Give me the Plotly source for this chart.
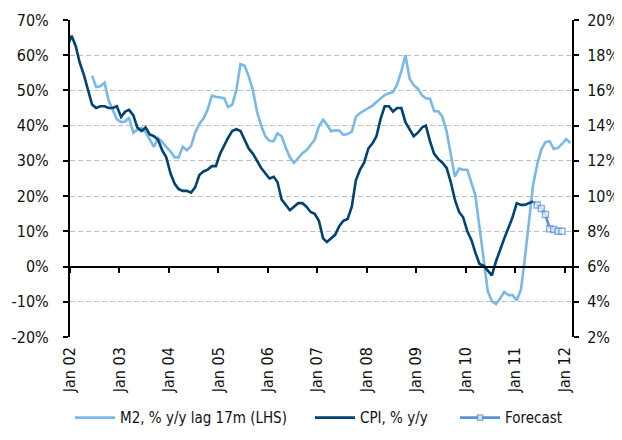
import pandas as pd
import plotly.graph_objects as go

# ---------------- data ----------------
# CPI, % y/y (right axis), monthly Dec 2001 .. May 2011
cpi_start = "2001-12"
cpi = [18.5,
       19.1, 18.5, 17.6, 16.9, 16.1, 15.2, 15.0, 15.1, 15.1, 15.0, 15.0, 15.1,
       14.5, 14.8, 14.9, 14.6, 13.9, 13.7, 13.9, 13.5, 13.4, 13.2, 12.6, 12.2,
       11.3, 10.7, 10.4, 10.3, 10.3, 10.2, 10.5, 11.2, 11.4, 11.5, 11.7, 11.7,
       12.4, 12.9, 13.3, 13.7, 13.8, 13.7, 13.2, 12.7, 12.4, 12.0, 11.6, 11.3,
       11.0, 11.1, 10.8, 9.8, 9.5, 9.2, 9.4, 9.6, 9.6, 9.4, 9.1, 9.0,
       8.6, 7.6, 7.4, 7.6, 7.8, 8.3, 8.6, 8.7, 9.4, 10.9, 11.5, 11.9,
       12.7, 13.0, 13.4, 14.4, 15.1, 15.1, 14.8, 15.0, 15.0, 14.2, 13.8, 13.4,
       13.6, 13.9, 14.0, 13.1, 12.4, 12.1, 11.9, 11.6, 10.8, 9.8, 9.1, 8.8,
       8.0, 7.5, 6.8, 6.15, 6.05, 5.8, 5.5, 6.3, 7.0, 7.6, 8.2, 8.8,
       9.6, 9.5, 9.5, 9.6, 9.7]

# CPI forecast (right axis), monthly May 2011 .. Dec 2011
fc_start = "2011-05"
forecast = [9.7, 9.5, 9.3, 8.95, 8.15, 8.1, 8.0, 8.0]

# M2, % y/y lagged 17m (left axis), monthly Jun 2002 .. Feb 2012
m2_start = "2002-06"
m2 = [54.2, 51.0, 51.2, 52.2, 47.2, 44.5, 41.8,
      41.0, 41.2, 42.3, 38.0, 38.8, 39.4, 38.2, 36.2, 34.0, 36.5, 35.4, 34.0,
      32.7, 31.0, 31.0, 34.0, 33.0, 34.2, 38.0, 40.5, 42.0, 44.5, 48.5, 48.2,
      47.9, 47.8, 45.3, 46.0, 50.0, 57.5, 57.0, 54.0, 50.0, 44.0, 40.0, 37.0,
      35.7, 35.6, 37.8, 37.0, 33.8, 31.0, 29.4, 30.8, 32.2, 33.0, 34.6, 36.0,
      39.8, 41.7, 40.3, 38.4, 38.7, 38.6, 37.4, 37.6, 38.3, 42.5, 43.6, 44.3,
      45.0, 45.7, 46.7, 47.7, 48.7, 49.2, 49.5, 51.7, 55.5, 60.0, 53.3, 51.5,
      50.5, 48.6, 47.8, 47.6, 44.1, 44.1, 42.5, 38.4, 31.5, 25.5, 27.8, 27.5,
      27.5, 23.5, 20.3, 11.2, 2.0, -7.0, -9.8, -10.6, -9.0, -7.2, -8.1, -8.1,
      -9.6, -6.5, 2.0, 13.0, 23.0, 29.0, 33.2, 35.3, 35.6, 33.4, 33.7, 34.8,
      36.2, 35.1]

tick_years = list(range(2002, 2013))
tick_labels = ["Jan 02", "Jan 03", "Jan 04", "Jan 05", "Jan 06", "Jan 07",
               "Jan 08", "Jan 09", "Jan 10", "Jan 11", "Jan 12"]
left_ticks = [-20, -10, 0, 10, 20, 30, 40, 50, 60, 70]
left_labels = ["-20%", "-10%", "0%", "10%", "20%", "30%", "40%", "50%", "60%", "70%"]
right_ticks = [2, 4, 6, 8, 10, 12, 14, 16, 18, 20]
right_labels = ["2%", "4%", "6%", "8%", "10%", "12%", "14%", "16%", "18%", "20%"]

names = ["M2, % y/y lag 17m (LHS)", "CPI, % y/y", "Forecast"]


def monthly(start, n):
    # monthly observations plotted a little into each month
    return pd.date_range(start=start, periods=n, freq="MS") + pd.Timedelta(days=12)


cpi_x = monthly(cpi_start, len(cpi))
fc_x = monthly(fc_start, len(forecast))
m2_x = monthly(m2_start, len(m2))
tick_vals = [pd.Timestamp(f"{y}-01-01") for y in tick_years]

# ---------------- styling ----------------
FONT = "DejaVu Sans Condensed, Liberation Sans Narrow, Liberation Sans, sans-serif"
C_M2 = "#7AB8E8"
C_CPI = "#004271"
C_FC = "#5B8FD6"
TXT = "#111111"
X_RANGE = ["2002-01-01", "2012-02-25"]

fig = go.Figure()

fig.add_trace(go.Scatter(x=m2_x, y=m2, name=names[0], mode="lines",
                         line=dict(color=C_M2, width=2.6), legend="legend",
                         xaxis="x", yaxis="y", hoverinfo="skip"))
fig.add_trace(go.Scatter(x=cpi_x, y=cpi, name=names[1], mode="lines",
                         line=dict(color=C_CPI, width=2.6), legend="legend2",
                         xaxis="x", yaxis="y2", hoverinfo="skip"))
fig.add_trace(go.Scatter(x=fc_x, y=forecast, name=names[2], mode="lines+markers",
                         line=dict(color=C_FC, width=2.6), legend="legend3",
                         marker=dict(symbol="square", size=[0] + [6] * (len(forecast) - 1),
                                     color="white", line=dict(color=C_FC, width=1.5)),
                         xaxis="x", yaxis="y2", hoverinfo="skip"))
# carrier for the zero-crossing x axis (tick marks)
fig.add_trace(go.Scatter(x=[cpi_x[0]], y=[None], mode="lines", showlegend=False,
                         xaxis="x2", yaxis="y", hoverinfo="skip"))

tick_font = dict(family=FONT, size=16, color=TXT)
leg_font = dict(family=FONT, size=15, color=TXT)


def leg(xpos):
    return dict(orientation="h", x=xpos, xanchor="left", y=-0.255, yanchor="middle",
                font=leg_font, bgcolor="rgba(0,0,0,0)", itemwidth=40)


# the page body has an 8px default margin, so the figure is sized to fit the window
fig.update_layout(
    width=614, height=424,
    margin=dict(l=62, r=50, t=12, b=95, autoexpand=False),
    paper_bgcolor="white", plot_bgcolor="white",
    showlegend=True,
    legend=leg(0.0),
    legend2=leg(0.478),
    legend3=leg(0.767),
    xaxis=dict(type="date", range=X_RANGE, tickvals=tick_vals, ticktext=tick_labels,
               tickangle=-90, tickfont=tick_font, showgrid=False, showline=False,
               zeroline=False, ticks="", ticklabelstandoff=6, automargin=False),
    xaxis2=dict(type="date", range=X_RANGE, overlaying="x", anchor="free",
                position=20 / 90, tickvals=tick_vals, showticklabels=False,
                showgrid=False, zeroline=False, showline=True, linecolor="black",
                linewidth=2, ticks="outside", ticklen=5, tickwidth=2, tickcolor="black"),
    yaxis=dict(range=[-20, 70], tickvals=left_ticks, ticktext=left_labels,
               tickfont=tick_font,
               showgrid=True, gridcolor="#BDBDBD", gridwidth=1, griddash="5px,3px",
               zeroline=False, showline=True, linecolor="black", linewidth=2,
               ticks="outside", ticklen=5, tickwidth=2, tickcolor="black",
               ticklabelstandoff=11, automargin=False),
    yaxis2=dict(range=[2, 20], tickvals=right_ticks, ticktext=right_labels,
                tickfont=tick_font,
                overlaying="y", side="right", anchor="x",
                showgrid=False, zeroline=False, showline=True, linecolor="black",
                linewidth=2, ticks="outside", ticklen=5, tickwidth=2, tickcolor="black",
                ticklabelstandoff=5, automargin=False),
)

fig.write_html("out.html")
